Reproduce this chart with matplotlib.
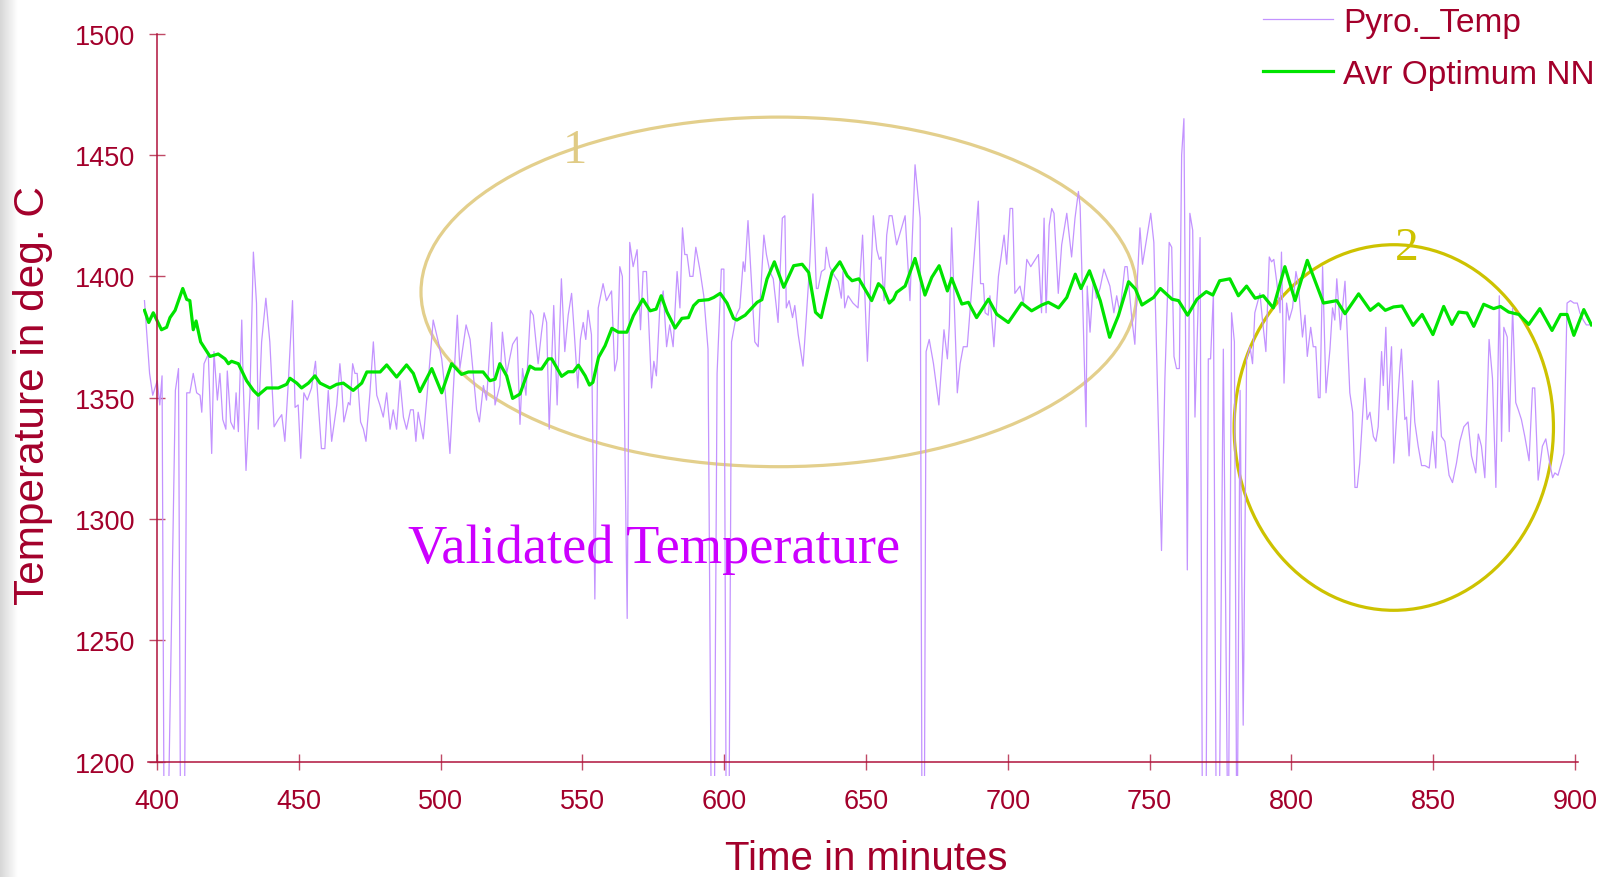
import numpy as np
import matplotlib
matplotlib.use("Agg")
import matplotlib.pyplot as plt
from matplotlib.patches import Ellipse

# -----------------------------
# Readings (minutes, deg. C)
# -----------------------------
pyro_minutes = [
    395.6, 397.4, 398.5, 400.1, 401.0, 401.8, 402.6, 403.6, 406.5, 407.6,
    408.4, 409.6, 410.5, 411.6, 412.8, 414.0, 415.2, 415.8, 416.6, 418.1,
    419.3, 420.1, 421.3, 422.2, 423.2, 424.3, 424.8, 426.0, 427.2, 427.9,
    428.7, 429.9, 430.4, 431.4, 432.8, 434.0, 435.1, 435.7, 436.9, 438.4,
    439.8, 441.3, 442.8, 444.0, 445.1, 446.3, 447.8, 448.7, 449.8, 450.7,
    451.8, 453.0, 454.5, 455.9, 456.9, 458.0, 459.2, 460.4, 461.6, 463.4,
    464.5, 465.1, 465.9, 467.5, 468.1, 469.0, 469.8, 470.6, 471.8, 472.8,
    473.7, 475.1, 476.3, 477.5, 478.6, 479.8, 481.0, 482.2, 483.3, 484.5,
    485.7, 486.9, 488.0, 489.4, 490.4, 491.3, 492.1, 493.9, 495.1, 497.4,
    499.2, 500.4, 501.6, 503.3, 504.5, 505.9, 506.8, 509.0, 510.4, 511.5,
    512.7, 513.7, 515.1, 516.2, 518.0, 519.2, 520.9,
    521.8, 523.3, 525.4, 527.0, 528.0, 528.9, 530.1, 531.7, 532.7, 534.4,
    535.6, 536.5, 537.4, 538.3, 539.9, 541.1, 542.6, 543.8, 545.0, 546.2,
    547.3, 548.4, 549.3, 550.3, 551.2, 552.0, 553.2, 554.4, 555.6, 557.3,
    558.5, 560.3, 561.4, 562.3, 563.2, 564.1, 564.6, 565.8, 566.7, 567.9,
    569.3, 570.5, 571.4, 572.6, 573.5, 574.4, 575.2, 576.1, 577.3, 578.5,
    579.7, 580.8, 582.0, 583.4, 584.4, 585.3, 586.1, 586.9, 587.9, 589.0,
    590.0, 591.4, 592.8, 594.3, 595.6, 596.4, 597.5, 599.0, 599.9, 600.8,
    601.6, 602.6, 604.3, 605.5, 606.7, 607.3, 608.4, 609.6, 610.8, 612.0,
    612.8, 614.0, 614.9, 616.1, 617.3, 619.0, 620.5, 621.4, 621.9, 622.9,
    624.1, 624.9, 626.1, 627.8, 629.0, 630.2, 631.3, 632.5, 633.1, 634.3,
    635.5, 636.0, 637.2, 639.0, 640.2, 641.3, 641.9, 642.5, 643.7, 645.4,
    647.2,
    648.8, 650.5, 652.6, 653.8, 654.7, 655.3, 656.4, 657.3, 658.2, 659.2,
    660.8, 663.8, 665.5, 667.3, 669.1, 669.8, 670.5, 671.2, 672.3, 673.8,
    675.7, 677.5, 678.7, 679.4, 680.2, 682.2, 683.2, 684.3, 685.7, 686.7,
    688.1, 689.6, 690.4, 691.4, 692.0, 693.1, 693.7, 695.1, 696.7, 698.7,
    699.6, 700.8, 701.7, 702.5, 704.3, 705.5, 706.7, 708.1, 710.8, 711.9,
    712.8, 713.5, 714.6, 715.5, 716.3, 717.8, 719.0, 720.8, 722.5, 723.7,
    724.9, 725.5, 726.4, 727.6, 728.0, 729.0, 730.2, 731.3, 732.5, 733.9,
    736.0, 737.4, 738.4, 739.5, 741.3, 742.1, 743.7, 744.8, 745.7, 746.6,
    747.5, 750.4, 751.5, 754.2, 755.4, 756.9, 757.8, 758.6, 759.5, 760.5,
    761.3, 762.1, 763.3, 764.2, 765.2, 766.0, 767.8, 768.7, 769.8, 770.7,
    771.5, 772.5, 773.6, 774.4, 776.0, 777.7, 778.9, 779.9, 780.8, 781.9,
    783.0, 784.2,
    785.4, 786.3, 787.1, 788.9, 789.8, 791.0, 792.2, 793.0, 793.8, 794.8,
    796.0, 796.5, 797.4, 798.3, 799.2, 800.4, 801.6, 802.4, 803.9, 804.8,
    805.6, 806.8, 807.7, 808.6, 809.5, 810.1, 811.0, 812.2, 813.6, 814.5,
    815.3, 816.0, 817.3, 818.9, 820.6, 821.6, 822.4, 823.2, 824.1, 825.9,
    826.7, 827.7, 828.9, 829.8, 830.6, 831.8, 832.4, 833.3, 834.1, 835.3,
    836.1, 837.1, 838.3, 838.8, 840.0, 840.6, 841.5, 842.7, 843.5, 844.7,
    845.9, 847.1, 848.6, 849.8, 850.9, 851.8, 852.9, 854.1, 855.6, 856.8,
    858.2, 859.4, 860.8, 862.3, 863.5, 865.0, 865.9, 867.0, 868.2, 869.7,
    870.9, 872.1, 873.3, 874.1, 874.9, 876.1, 876.8, 878.0, 879.1, 880.0,
    881.1, 882.3, 883.8, 885.0, 885.8, 887.0, 888.5, 889.7, 891.1, 892.1,
    892.9, 894.0, 895.2, 896.1, 897.2, 898.4, 899.6, 900.8, 901.7, 902.9,
    904.0, 905.2,
]
pyro_temp = [
    1390, 1360, 1351, 1357, 1347, 1359, 1150, 1150, 1353, 1362,
    1150, 1150, 1352, 1352, 1360, 1352, 1351, 1344, 1364, 1368,
    1327, 1369, 1349, 1360, 1341, 1337, 1361, 1340, 1337, 1352,
    1336, 1382, 1357, 1320, 1352, 1410, 1389, 1337, 1373, 1391,
    1373, 1338, 1341, 1343, 1332, 1356, 1390, 1346, 1347, 1325,
    1352, 1349, 1354, 1365, 1347, 1329, 1329, 1353, 1332, 1347,
    1364, 1356, 1340, 1348, 1347, 1364, 1360, 1360, 1340, 1337,
    1332, 1352, 1373, 1351, 1347, 1342, 1352, 1337, 1345, 1337,
    1357, 1342, 1337, 1345, 1345, 1332, 1344, 1333, 1349, 1382,
    1373, 1366, 1353, 1327, 1353, 1384, 1362, 1380, 1374, 1360,
    1345, 1340, 1355, 1349, 1381, 1347, 1355,
    1377, 1360, 1372, 1375, 1339, 1362, 1351, 1386, 1384, 1364,
    1377, 1385, 1381, 1337, 1388, 1347, 1399, 1369, 1384, 1393,
    1374, 1354, 1374, 1381, 1374, 1386, 1376, 1267, 1387, 1397,
    1390, 1394, 1361, 1366, 1404, 1400, 1365, 1259, 1414, 1404,
    1411, 1378, 1402, 1402, 1378, 1354, 1365, 1359, 1387, 1394,
    1371, 1380, 1371, 1402, 1387, 1420, 1409, 1409, 1400, 1400,
    1412, 1403, 1392, 1370, 1150, 1150, 1360, 1403, 1403, 1150,
    1150, 1373, 1384, 1387, 1406, 1402, 1423, 1398, 1373, 1371,
    1392, 1417, 1409, 1402, 1399, 1381, 1424, 1425, 1387, 1390,
    1383, 1388, 1376, 1363, 1384, 1406, 1434, 1395, 1395, 1402,
    1403, 1412, 1404, 1400, 1398, 1391, 1402, 1387, 1392, 1389,
    1387,
    1417, 1365, 1425, 1411, 1407, 1408, 1390, 1417, 1425, 1425,
    1413, 1425, 1390, 1446, 1424, 1150, 1150, 1369, 1374, 1364,
    1347, 1378, 1366, 1380, 1420, 1352, 1364, 1371, 1371, 1386,
    1408, 1431, 1397, 1397, 1385, 1384, 1392, 1371, 1400, 1417,
    1405, 1428, 1428, 1393, 1396, 1389, 1407, 1404, 1409, 1385,
    1424, 1385, 1421, 1428, 1426, 1393, 1413, 1426, 1408, 1424,
    1435, 1429, 1390, 1338, 1396, 1377, 1399, 1391, 1395, 1403,
    1396, 1385, 1392, 1385, 1404, 1404, 1383, 1372, 1399, 1420,
    1405, 1426, 1414, 1287, 1358, 1414, 1412, 1367, 1362, 1362,
    1450, 1465, 1279, 1426, 1419, 1342, 1416, 1150, 1150, 1366,
    1366, 1393, 1150, 1150, 1370, 1150, 1385, 1373, 1150, 1353,
    1215, 1366,
    1371, 1364, 1385, 1393, 1382, 1369, 1408, 1406, 1407, 1398,
    1385, 1410, 1356, 1389, 1382, 1387, 1402, 1397, 1375, 1384,
    1367, 1379, 1371, 1371, 1350, 1350, 1404, 1352, 1370, 1387,
    1382, 1399, 1378, 1398, 1352, 1344, 1313, 1313, 1323, 1358,
    1341, 1344, 1334, 1332, 1338, 1369, 1355, 1379, 1345, 1371,
    1323, 1342, 1363, 1370, 1341, 1342, 1326, 1357, 1340, 1330,
    1322, 1322, 1321, 1336, 1321, 1357, 1334, 1332, 1318, 1315,
    1323, 1332, 1338, 1340, 1326, 1319, 1335, 1330, 1317, 1374,
    1358, 1313, 1392, 1332, 1379, 1375, 1336, 1387, 1348, 1345,
    1341, 1334, 1324, 1354, 1354, 1316, 1330, 1333, 1323, 1317,
    1319, 1318, 1323, 1327, 1389, 1390, 1389, 1389, 1385, 1382,
    1380, 1380,
]

avr_minutes = [
    395.6, 397.1, 398.7, 401.6, 403.4, 404.6, 406.4, 409.1, 410.5, 411.6,
    412.8, 413.8, 415.4, 418.7, 421.6, 424.0, 425.2, 426.3, 428.7, 431.6,
    434.0, 435.7, 438.7, 442.8, 445.7, 446.9, 449.3, 451.0, 453.4, 455.7,
    457.5, 461.0, 463.4, 465.7, 469.2, 472.2, 474.0, 478.7, 481.0, 484.5,
    488.0, 490.4, 492.7, 496.9, 500.4, 503.9, 507.4, 509.8, 515.0, 517.4,
    519.2, 520.9, 523.3, 525.4, 528.0, 531.5, 533.3, 535.6, 538.0, 539.2,
    542.7, 545.0, 546.8, 548.6, 551.0, 552.5, 553.7, 555.7, 558.0, 560.4,
    562.7, 565.7, 568.0, 571.3, 573.9, 576.0, 577.8, 579.8, 582.7, 585.1,
    587.4, 589.2, 591.0, 594.5, 596.3, 598.6, 601.0, 603.3, 604.5, 607.4,
    611.6, 613.3, 615.1, 617.7, 621.0, 624.5, 627.5, 629.8, 632.2, 634.2,
    636.3, 638.0, 640.8, 643.4, 645.1, 647.5, 652.0, 654.4, 656.1, 658.2,
    659.7, 660.8, 663.8, 667.3, 670.8, 673.2, 675.8, 678.7, 680.2, 683.8,
    686.1, 689.0, 693.2, 696.1, 700.2, 704.9, 708.4, 712.0, 714.3, 717.9,
    720.8, 723.8, 725.8, 728.8, 732.6, 735.9, 739.0, 742.6, 745.0, 747.3,
    751.4, 753.8, 757.9, 760.2, 763.4, 766.7, 770.0, 772.3, 774.7, 778.3,
    781.3, 784.2, 787.2, 790.1, 793.6, 797.7, 801.3, 805.6, 811.3, 816.0,
    818.9, 823.7, 827.8, 830.7, 833.1, 836.0, 839.0, 842.9, 846.1, 849.9,
    853.7, 856.6, 859.0, 861.9, 864.3, 867.8, 871.3, 873.7, 876.6, 880.2,
    883.7, 887.6, 891.9, 894.9, 897.2, 899.6, 903.1, 905.8,
]
avr_temp = [
    1386, 1381, 1385, 1378, 1379, 1383, 1386, 1395, 1390.5, 1390,
    1378, 1381.6, 1373, 1367, 1368, 1366, 1364, 1365, 1364, 1357,
    1353, 1351, 1354, 1354, 1355.5, 1358, 1356, 1354, 1356, 1359,
    1356, 1354, 1355.5, 1356, 1353, 1356, 1360.6, 1360.6, 1363.5, 1358.5,
    1363.5, 1360, 1352.5, 1362, 1352, 1364, 1359.6, 1360.6, 1360.6, 1357,
    1357.6, 1364, 1359, 1349.7, 1351.5, 1363, 1361.8, 1361.8, 1366, 1366,
    1358.8, 1360.7, 1360.7, 1363.4, 1359, 1355.2, 1356.3, 1366.6, 1371.4, 1378.6,
    1377, 1377, 1383.8, 1390.6, 1385.8, 1386.5, 1392, 1385.4, 1378.7, 1382.7,
    1383, 1387.9, 1390, 1390.4, 1391.3, 1393, 1389, 1382.7, 1382, 1384,
    1389.3, 1390.4, 1398.9, 1406, 1395.5, 1404.4, 1405, 1401.6, 1385.2, 1383,
    1393.4, 1401.6, 1406, 1400.2, 1398.2, 1399, 1390, 1397, 1395, 1389,
    1390.6, 1393.4, 1396, 1407.4, 1392.3, 1399.6, 1404.4, 1394, 1399.2, 1388.6,
    1389.3, 1383, 1390.6, 1384.4, 1381, 1389, 1385.8, 1388.2, 1389.3, 1387,
    1391.3, 1400.9, 1395, 1402.3, 1390, 1374.9, 1383.8, 1397.8, 1394.8, 1388.2,
    1391.3, 1395, 1390.6, 1390, 1384, 1390.6, 1393.7, 1392.3, 1398.2, 1399,
    1392, 1396, 1391, 1392, 1387, 1404, 1390, 1406.6, 1389, 1390,
    1384.6, 1392.8, 1386, 1388.7, 1386, 1387.4, 1387.8, 1379.8, 1384.3, 1376,
    1387.6, 1380.2, 1385.3, 1384.9, 1379.4, 1388.5, 1386.7, 1387.6, 1385.3, 1384.3,
    1380.2, 1386.7, 1377.7, 1384.3, 1384.3, 1375.7, 1386.3, 1380,
]

x_ticks = list(range(400, 901, 50))
y_ticks = list(range(1200, 1501, 50))

# annotation ellipses: centre minute, centre temp, width (min), height (deg)
zone_1 = (619.3, 1393.6, 252.4, 144.1)
zone_2 = (836.1, 1337.7, 112.6, 150.7)

DARK_RED = "#a3002b"
SPINE_RED = "#b0143c"
TICK_RED = "#c04a66"

# -----------------------------
# Figure
# -----------------------------
fig = plt.figure(figsize=(16.06, 8.78), dpi=100)

# faint grey shadow on the left edge
shade = fig.add_axes([0, 0, 0.011, 1])
shade.imshow(np.linspace(0.84, 1.0, 64)[None, :], cmap="gray", vmin=0, vmax=1,
             aspect="auto", extent=(0, 1, 0, 1))
shade.axis("off")

ax = fig.add_axes([0.0889, 0.1149, 0.9024, 0.8593])
ax.plot(pyro_minutes, pyro_temp, color="#c393ff", lw=0.9, label="Pyro._Temp")
ax.plot(avr_minutes, avr_temp, color="#00e400", lw=2.3, label="Avr Optimum NN",
        solid_joinstyle="round")

ax.set_xlim(395, 906)
ax.set_ylim(1194, 1505)

for side in ("top", "right"):
    ax.spines[side].set_visible(False)
ax.spines["left"].set_position(("data", 400))
ax.spines["left"].set_bounds(1200, 1500)
ax.spines["bottom"].set_position(("data", 1200))
ax.spines["bottom"].set_bounds(397, 901)
for side in ("left", "bottom"):
    ax.spines[side].set_color(SPINE_RED)
    ax.spines[side].set_linewidth(1.1)

ax.set_xticks(x_ticks)
ax.set_yticks(y_ticks)
ax.tick_params(direction="inout", length=11.5, width=1, color=TICK_RED,
               labelcolor=DARK_RED, labelsize=19.5, pad=10)
ax.tick_params(axis="x", pad=13)
for lab in ax.get_xticklabels() + ax.get_yticklabels():
    lab.set_family("Liberation Sans")

# zones
ax.add_patch(Ellipse(zone_1[:2], zone_1[2], zone_1[3], fill=False,
                     edgecolor="#e3cf8c", lw=2.3))
ax.add_patch(Ellipse(zone_2[:2], zone_2[2], zone_2[3], fill=False,
                     edgecolor="#cdc200", lw=2.3))
ax.text(547.4, 1451.9, "1", color="#e0cb85", fontsize=35,
        family="Liberation Serif", ha="center", va="center")
ax.text(840.6, 1412, "2", color="#cdc200", fontsize=34,
        family="Liberation Serif", ha="center", va="center")
ax.text(488.4, 1282.4, "Validated Temperature", color="#cc00ff", fontsize=39.2,
        family="Liberation Serif", ha="left", va="baseline")

# axis titles
fig.text(866 / 1606, 0.009, "Time in minutes", color=DARK_RED, fontsize=29,
         family="Liberation Sans", ha="center", va="baseline")
fig.text(33 / 1606, 0.5496, "Temperature in deg. C", color=DARK_RED,
         fontsize=30.5, family="Liberation Sans", rotation=90,
         ha="center", va="center")

leg = ax.legend(loc="upper left", bbox_to_anchor=(1263 / 1606, 1 - 8 / 878),
                bbox_transform=fig.transFigure, frameon=False,
                handlelength=2.1, handletextpad=0.3, labelspacing=0.62,
                borderpad=0, borderaxespad=0, labelcolor=DARK_RED,
                prop={"family": "Liberation Sans", "size": 24})

fig.savefig("out.png", dpi=100)
